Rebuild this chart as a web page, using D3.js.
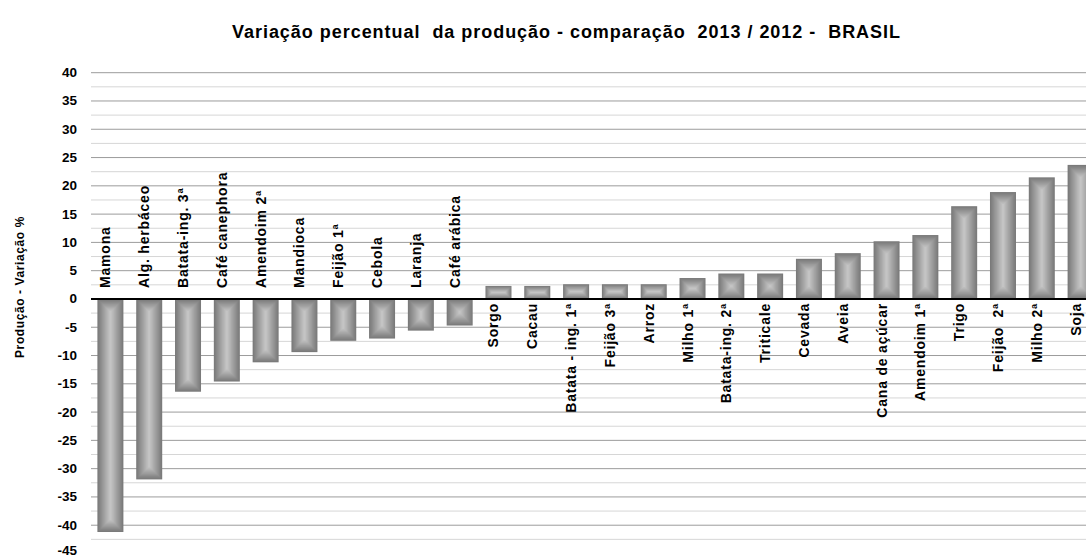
<!DOCTYPE html>
<html>
<head>
<meta charset="utf-8">
<script src="https://cdn.jsdelivr.net/npm/d3@7"></script>
<style>
  html, body { margin: 0; padding: 0; background: #fff; }
  svg { display: block; font-family: "Liberation Sans", Arial, sans-serif; }
</style>
</head>
<body>
<svg id="chart" width="1086" height="558"></svg>
<script>
const categories = ["Mamona","Alg. herbáceo","Batata-ing. 3ª","Café canephora","Amendoim 2ª","Mandioca","Feijão 1ª","Cebola","Laranja","Café arábica","Sorgo","Cacau","Batata - ing. 1ª","Feijão 3ª","Arroz","Milho 1ª","Batata-ing. 2ª","Triticale","Cevada","Aveia","Cana de açúcar","Amendoim 1ª","Trigo","Feijão  2ª","Milho 2ª","Soja"];
const values = [-41.2,-31.9,-16.4,-14.6,-11.2,-9.4,-7.4,-7.0,-5.6,-4.7,2.3,2.3,2.6,2.6,2.6,3.7,4.5,4.5,7.1,8.1,10.2,11.3,16.4,18.9,21.5,23.7];
const yTicks = [40,35,30,25,20,15,10,5,0,-5,-10,-15,-20,-25,-30,-35,-40,-45];
const title = "Variação percentual  da produção - comparação  2013 / 2012 -  BRASIL";
const yTitle = "Produção - Variação %";

const svg = d3.select("#chart");
const plotLeft = 91, plotRight = 1100, plotTop = 72.7, plotBottom = 553.5;

const x = d3.scaleBand().domain(categories).range([plotLeft, plotRight]).paddingInner(0.33).paddingOuter(0.165);
const y = d3.scaleLinear().domain([-45, 40]).range([plotBottom, plotTop]);

// gridlines every 2.5 units
const gridVals = d3.range(-42.5, 40.01, 2.5);
svg.append("g").selectAll("line").data(gridVals).join("line")
  .attr("x1", plotLeft).attr("x2", plotRight)
  .attr("y1", d => y(d)).attr("y2", d => y(d))
  .attr("stroke", d => (Math.abs(d % 5) < 1e-6 ? "#9c9c9c" : "#d6d6d6"))
  .attr("stroke-width", 1);

// bars with concentric (path) gradient
const edge = "#7a7a7a", center = "#c4c4c4";
const interp = d3.interpolateRgb(edge, center);
const N = 12;
const barG = svg.append("g");
categories.forEach((c, i) => {
  const v = values[i];
  const bx = x(c), bw = x.bandwidth();
  const by = y(Math.max(0, v)), bh = Math.abs(y(v) - y(0));
  const m = Math.min(bw, bh) / 2;
  for (let k = 0; k < N; k++) {
    const ins = m * k / N;
    barG.append("rect")
      .attr("x", bx + ins).attr("y", by + ins)
      .attr("width", Math.max(0, bw - 2 * ins)).attr("height", Math.max(0, bh - 2 * ins))
      .attr("fill", interp(k / (N - 1)));
  }
});

// zero line
svg.append("line").attr("x1", plotLeft).attr("x2", plotRight)
  .attr("y1", y(0)).attr("y2", y(0)).attr("stroke", "#000").attr("stroke-width", 2);

// category labels
svg.append("g").selectAll("text").data(categories).join("text")
  .attr("transform", (d, i) => {
    const cx = x(d) + x.bandwidth() / 2;
    const ty = values[i] < 0 ? y(0) - 11 : y(0) + 4;
    return `translate(${cx},${ty}) rotate(-90)`;
  })
  .attr("text-anchor", (d, i) => values[i] < 0 ? "start" : "end")
  .attr("font-size", 14).attr("font-weight", "bold")
  .attr("letter-spacing", 0.8)
  .attr("fill", "#000")
  .style("white-space", "pre")
  .text(d => d);

// y tick labels
svg.append("g").selectAll("text").data(yTicks).join("text")
  .attr("x", 77).attr("y", d => Math.min(y(d) + 4.5, 555))
  .attr("text-anchor", "end").attr("font-size", 13.5).attr("font-weight", "bold")
  .text(d => d);

// y title
svg.append("text")
  .attr("transform", "translate(24,287) rotate(-90)")
  .attr("text-anchor", "middle").attr("font-size", 12).attr("font-weight", "bold")
  .attr("letter-spacing", 0.6)
  .text(yTitle);

// chart title
svg.append("text")
  .attr("x", 232).attr("y", 38)
  .attr("font-size", 18).attr("font-weight", "bold")
  .attr("textLength", 668).attr("lengthAdjust", "spacing")
  .style("white-space", "pre")
  .text(title);
</script>
</body>
</html>
